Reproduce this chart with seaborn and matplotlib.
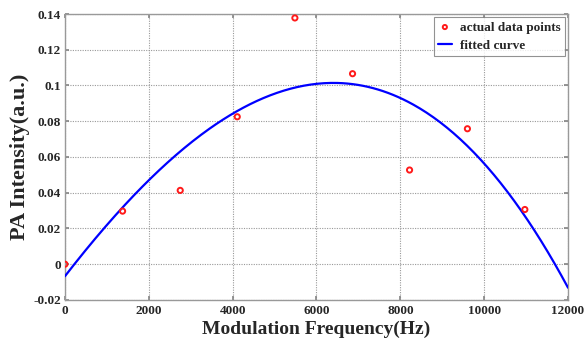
import numpy as np
import pandas as pd
import matplotlib
matplotlib.use("Agg")
import matplotlib.pyplot as plt
import seaborn as sns

# measured points
freq = [0, 1375, 2750, 4110, 5485, 6860, 8220, 9600, 10970]
intensity = [0.0, 0.0297, 0.0413, 0.0825, 0.1378, 0.1066, 0.0527, 0.0758, 0.0306]
x_ticks = [0, 2000, 4000, 6000, 8000, 10000, 12000]
y_ticks = [-0.02, 0, 0.02, 0.04, 0.06, 0.08, 0.1, 0.12, 0.14]
fit_degree = 3

sns.set_theme(style="white")
plt.rcParams['font.family'] = ['Liberation Serif', 'DejaVu Serif']
plt.rcParams['font.weight'] = 'bold'

pts = pd.DataFrame({"freq": freq, "intensity": intensity})
coef = np.polyfit(freq, intensity, fit_degree)
xs = np.linspace(0, 12000, 300)
fit = pd.DataFrame({"freq": xs, "intensity": np.polyval(coef, xs)})

fig = plt.figure(figsize=(5.85, 3.42), dpi=100)
ax = fig.add_axes([0.111, 0.123, 0.86, 0.836])

sns.lineplot(data=fit, x="freq", y="intensity", ax=ax, color="#0000ff",
             linewidth=1.6, label="fitted curve", zorder=3)
sns.scatterplot(data=pts, x="freq", y="intensity", ax=ax, marker="o",
                s=14, facecolor="none", edgecolor="#ff1a1a", linewidth=1.4,
                label="actual data points", zorder=4)

ax.set_xlim(0, 12000)
ax.set_ylim(-0.02, 0.14)
ax.set_xticks(x_ticks)
ax.set_xticklabels([str(t) for t in x_ticks])
ax.set_yticks(y_ticks)
ax.set_yticklabels(["%g" % t for t in y_ticks])
ax.tick_params(direction="in", length=3, color="#888888", labelsize=9.5,
               pad=3, top=True, right=True, bottom=True, left=True)
ax.tick_params(axis="x", pad=4)
for lab in ax.get_xticklabels() + ax.get_yticklabels():
    lab.set_fontweight("bold")
ax.grid(True, linestyle=(0, (1, 1.2)), color="#999999", linewidth=0.8)
for sp in ax.spines.values():
    sp.set_color("#999999")
    sp.set_linewidth(1.0)

ax.set_xlabel("Modulation Frequency(Hz)", fontsize=14, fontweight="bold", labelpad=2)
ax.set_ylabel("PA Intensity(a.u.)", fontsize=16, fontweight="bold", labelpad=2)

handles, labels = ax.get_legend_handles_labels()
order = [labels.index("actual data points"), labels.index("fitted curve")]
leg = ax.legend([handles[i] for i in order], [labels[i] for i in order],
                loc="upper right", fontsize=9.5, frameon=True, fancybox=False,
                borderaxespad=0.25, handlelength=1.1, handletextpad=0.6,
                borderpad=0.3, labelspacing=0.45, markerscale=0.8)
leg.get_frame().set_edgecolor("#777777")
leg.get_frame().set_linewidth(0.8)
for t in leg.get_texts():
    t.set_fontweight("bold")

fig.savefig("out.png", dpi=100)
